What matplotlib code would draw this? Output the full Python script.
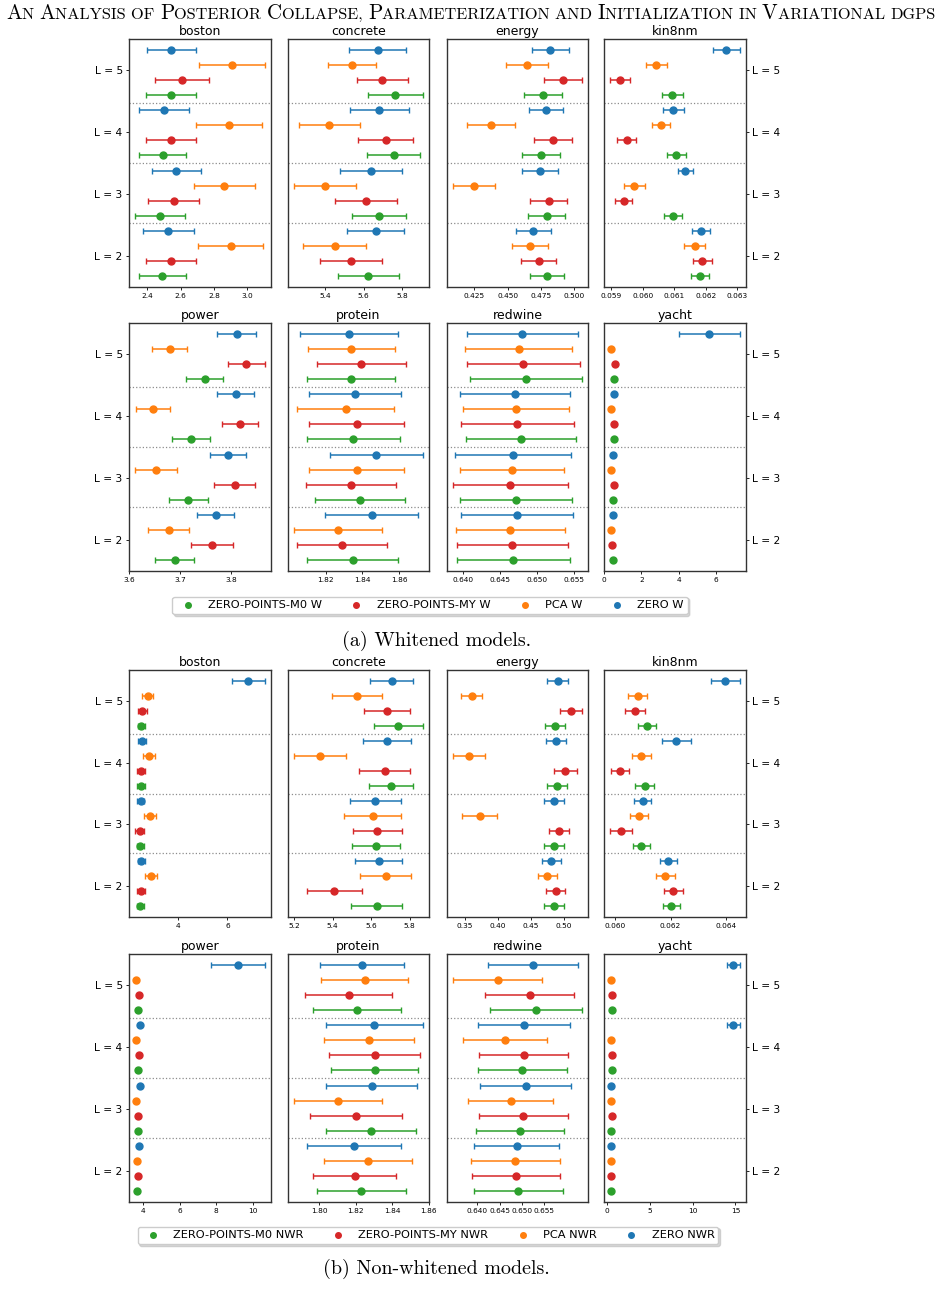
import matplotlib
matplotlib.use("Agg")
import matplotlib.pyplot as plt
from matplotlib.lines import Line2D
from matplotlib.offsetbox import TextArea, HPacker, AnchoredOffsetbox

# ---------------- data ----------------
DATASETS = ["boston", "concrete", "energy", "kin8nm", "power", "protein", "redwine", "yacht"]
LEVELS = ["L = 2", "L = 3", "L = 4", "L = 5"]
METHODS = ["ZERO-POINTS-M0", "ZERO-POINTS-MY", "PCA", "ZERO"]
COLORS = ["#2ca02c", "#d62728", "#ff7f0e", "#1f77b4"]

# Whitened models: means / error half-widths, per dataset, for L = 2, 3, 4, 5
W_M0_MEAN = {"boston": [2.490, 2.478, 2.492, 2.540], "concrete": [5.625, 5.680, 5.757, 5.764],
             "energy": [0.4795, 0.4792, 0.4750, 0.4765], "kin8nm": [0.06182, 0.06096, 0.06106, 0.06094],
             "power": [3.689, 3.716, 3.721, 3.748], "protein": [1.8347, 1.8388, 1.8350, 1.8339],
             "redwine": [0.64686, 0.64721, 0.64784, 0.64855], "yacht": [0.46, 0.46, 0.52, 0.55]}
W_M0_ERR = {"boston": [0.142, 0.150, 0.142, 0.150], "concrete": [0.158, 0.142, 0.138, 0.142],
            "energy": [0.0125, 0.0137, 0.0140, 0.0140], "kin8nm": [0.00028, 0.00029, 0.00030, 0.00032],
            "power": [0.038, 0.0386, 0.0366, 0.036], "protein": [0.0247, 0.0246, 0.0253, 0.0240],
            "redwine": [0.0076, 0.0076, 0.0074, 0.0075], "yacht": [0.05, 0.05, 0.05, 0.05]}
W_MY_MEAN = {"boston": [2.540, 2.558, 2.542, 2.610], "concrete": [5.536, 5.611, 5.714, 5.697],
             "energy": [0.4733, 0.4807, 0.4839, 0.4913], "kin8nm": [0.06188, 0.05939, 0.05948, 0.05928],
             "power": [3.762, 3.806, 3.817, 3.829], "protein": [1.8289, 1.8338, 1.8370, 1.8395],
             "redwine": [0.64668, 0.64646, 0.64739, 0.64819], "yacht": [0.43, 0.52, 0.55, 0.57]}
W_MY_ERR = {"boston": [0.150, 0.152, 0.152, 0.163], "concrete": [0.162, 0.160, 0.142, 0.132],
            "energy": [0.0132, 0.0137, 0.0140, 0.0140], "kin8nm": [0.00030, 0.00028, 0.00030, 0.00031],
            "power": [0.041, 0.040, 0.035, 0.0357], "protein": [0.0246, 0.0247, 0.0260, 0.0245],
            "redwine": [0.0075, 0.0077, 0.0076, 0.0076], "yacht": [0.05, 0.05, 0.05, 0.05]}
W_PCA_MEAN = {"boston": [2.900, 2.862, 2.888, 2.906], "concrete": [5.450, 5.400, 5.422, 5.541],
              "energy": [0.4668, 0.4250, 0.4374, 0.4646], "kin8nm": [0.06164, 0.05973, 0.06057, 0.06043],
              "power": [3.677, 3.653, 3.647, 3.679], "protein": [1.8269, 1.8370, 1.8309, 1.8339],
              "redwine": [0.64646, 0.64668, 0.64721, 0.64757], "yacht": [0.39, 0.39, 0.39, 0.39]}
W_PCA_ERR = {"boston": [0.195, 0.185, 0.199, 0.198], "concrete": [0.163, 0.159, 0.159, 0.125],
             "energy": [0.0132, 0.0155, 0.0180, 0.0158], "kin8nm": [0.00034, 0.00034, 0.00029, 0.00034],
             "power": [0.040, 0.0406, 0.033, 0.035], "protein": [0.0240, 0.0260, 0.0265, 0.0237],
             "redwine": [0.0073, 0.0070, 0.0071, 0.0072], "yacht": [0.04, 0.04, 0.04, 0.04]}
W_ZERO_MEAN = {"boston": [2.524, 2.574, 2.500, 2.544], "concrete": [5.664, 5.637, 5.682, 5.673],
               "energy": [0.4691, 0.4740, 0.4785, 0.4819], "kin8nm": [0.06184, 0.06134, 0.06097, 0.06265],
               "power": [3.769, 3.794, 3.808, 3.810], "protein": [1.8452, 1.8475, 1.8361, 1.8327],
               "redwine": [0.64735, 0.64677, 0.64708, 0.64806], "yacht": [0.46, 0.46, 0.52, 5.625]}
W_ZERO_ERR = {"boston": [0.153, 0.148, 0.151, 0.149], "concrete": [0.148, 0.161, 0.154, 0.147],
              "energy": [0.0130, 0.0135, 0.0127, 0.0139], "kin8nm": [0.00028, 0.00024, 0.00032, 0.00042],
              "power": [0.0367, 0.0354, 0.0354, 0.0373], "protein": [0.0254, 0.0254, 0.0250, 0.0269],
              "redwine": [0.0075, 0.0078, 0.0074, 0.0075], "yacht": [0.05, 0.05, 0.05, 1.62]}

# Non-whitened models
N_M0_MEAN = {"boston": [2.449, 2.449, 2.490, 2.490], "concrete": [5.628, 5.625, 5.704, 5.742],
             "energy": [0.4845, 0.4850, 0.4890, 0.4865], "kin8nm": [0.06203, 0.06095, 0.06107, 0.06115],
             "power": [3.71, 3.73, 3.75, 3.76], "protein": [1.8231, 1.8284, 1.8305, 1.8207],
             "redwine": [0.64921, 0.64958, 0.65010, 0.65315], "yacht": [0.55, 0.55, 0.59, 0.59]}
N_M0_ERR = {"boston": [0.15, 0.15, 0.17, 0.15], "concrete": [0.131, 0.124, 0.114, 0.125],
            "energy": [0.015, 0.015, 0.015, 0.0148], "kin8nm": [0.00031, 0.00031, 0.00034, 0.00031],
            "power": [0.04, 0.04, 0.04, 0.04], "protein": [0.0244, 0.0245, 0.0238, 0.0243],
            "redwine": [0.0100, 0.0099, 0.0100, 0.0103], "yacht": [0.05, 0.05, 0.05, 0.05]}
N_MY_MEAN = {"boston": [2.476, 2.422, 2.463, 2.530], "concrete": [5.408, 5.633, 5.670, 5.682],
             "energy": [0.4875, 0.4930, 0.5020, 0.5100], "kin8nm": [0.06210, 0.06023, 0.06019, 0.06072],
             "power": [3.73, 3.75, 3.78, 3.80], "protein": [1.8195, 1.8202, 1.8305, 1.8162],
             "redwine": [0.64877, 0.65033, 0.65040, 0.65174], "yacht": [0.55, 0.59, 0.63, 0.63]}
N_MY_ERR = {"boston": [0.16, 0.17, 0.16, 0.18], "concrete": [0.143, 0.126, 0.133, 0.119],
            "energy": [0.0145, 0.015, 0.017, 0.0165], "kin8nm": [0.00034, 0.00039, 0.00032, 0.00037],
            "power": [0.04, 0.04, 0.04, 0.04], "protein": [0.0227, 0.0251, 0.0250, 0.0238],
            "redwine": [0.0099, 0.0100, 0.0101, 0.0101], "yacht": [0.05, 0.05, 0.05, 0.05]}
N_PCA_MEAN = {"boston": [2.884, 2.844, 2.816, 2.748], "concrete": [5.675, 5.608, 5.336, 5.527],
              "energy": [0.4750, 0.3725, 0.3570, 0.3605], "kin8nm": [0.06181, 0.06086, 0.06095, 0.06082],
              "power": [3.67, 3.65, 3.64, 3.64], "protein": [1.8269, 1.8104, 1.8273, 1.8249],
              "redwine": [0.64854, 0.64750, 0.64617, 0.64461], "yacht": [0.47, 0.51, 0.47, 0.51]}
N_PCA_ERR = {"boston": [0.23, 0.24, 0.24, 0.22], "concrete": [0.131, 0.147, 0.134, 0.129],
             "energy": [0.015, 0.027, 0.024, 0.0158], "kin8nm": [0.00035, 0.00032, 0.00035, 0.00035],
             "power": [0.04, 0.04, 0.04, 0.04], "protein": [0.0240, 0.0240, 0.0246, 0.0238],
             "redwine": [0.0100, 0.0096, 0.0094, 0.0100], "yacht": [0.04, 0.04, 0.04, 0.04]}
N_ZERO_MEAN = {"boston": [2.490, 2.463, 2.517, 6.843], "concrete": [5.640, 5.621, 5.682, 5.706],
               "energy": [0.4810, 0.4850, 0.4880, 0.4905], "kin8nm": [0.06192, 0.06100, 0.06221, 0.06396],
               "power": [3.78, 3.84, 3.85, 9.18], "protein": [1.8191, 1.8289, 1.8302, 1.8235],
               "redwine": [0.64884, 0.65085, 0.65055, 0.65248], "yacht": [0.55, 0.55, 14.73, 14.73]}
N_ZERO_ERR = {"boston": [0.15, 0.15, 0.15, 0.67], "concrete": [0.122, 0.132, 0.126, 0.111],
              "energy": [0.015, 0.0155, 0.015, 0.0155], "kin8nm": [0.00031, 0.00030, 0.00052, 0.00052],
              "power": [0.04, 0.04, 0.04, 1.45], "protein": [0.0258, 0.0250, 0.0265, 0.0232],
              "redwine": [0.0096, 0.0102, 0.0103, 0.0101], "yacht": [0.05, 0.05, 0.75, 0.75]}

# x tick labels per panel
W_XTICKS = {"boston": ["2.4", "2.6", "2.8", "3.0"], "concrete": ["5.4", "5.6", "5.8"],
            "energy": ["0.425", "0.450", "0.475", "0.500"],
            "kin8nm": ["0.059", "0.060", "0.061", "0.062", "0.063"],
            "power": ["3.6", "3.7", "3.8"], "protein": ["1.82", "1.84", "1.86"],
            "redwine": ["0.640", "0.645", "0.650", "0.655"], "yacht": ["0", "2", "4", "6"]}
N_XTICKS = {"boston": ["4", "6"], "concrete": ["5.2", "5.4", "5.6", "5.8"],
            "energy": ["0.35", "0.40", "0.45", "0.50"], "kin8nm": ["0.060", "0.062", "0.064"],
            "power": ["4", "6", "8", "10"], "protein": ["1.80", "1.82", "1.84", "1.86"],
            "redwine": ["0.640", "0.645", "0.650", "0.655"], "yacht": ["0", "5", "10", "15"]}

W_LABELS = ["ZERO-POINTS-M0 W", "ZERO-POINTS-MY W", "PCA W", "ZERO W"]
N_LABELS = ["ZERO-POINTS-M0 NWR", "ZERO-POINTS-MY NWR", "PCA NWR", "ZERO NWR"]

TITLE = "An Analysis of Posterior Collapse, Parameterization and Initialization in Variational dgps"
CAPTION_A = "(a) Whitened models."
CAPTION_B = "(b) Non-whitened models."

# ---------------- figure ----------------
W, H = 942, 1306
fig = plt.figure(figsize=(W / 100, H / 100), dpi=100)
SERIF = ["cmr10", "DejaVu Serif"]

COLS = [(129, 271), (288, 429), (447, 588), (604, 746)]
ROWS = [(39, 287), (323, 571), (670, 917), (954, 1202)]

n_lev = len(LEVELS)
n_met = len(METHODS)
n_pts = n_lev * n_met
ylo, yhi = -0.75, n_pts - 1 + 0.75


def draw_panel(ax, means, errs, ds, ticklabels, col):
    for m in range(n_met):
        ys = [li * n_met + m for li in range(n_lev)]
        ax.errorbar(means[m][ds], ys, xerr=errs[m][ds], fmt="o", color=COLORS[m],
                    markersize=5, elinewidth=1.1, capsize=2.2, capthick=1.0, zorder=3)
    for li in range(1, n_lev):
        ax.axhline(li * n_met - 0.5, color="#8c8c8c", linestyle=":", linewidth=0.9, zorder=1)
    ax.set_ylim(ylo, yhi)
    ax.set_xticks([float(t) for t in ticklabels])
    ax.set_xticklabels(ticklabels)
    ax.tick_params(axis="x", labelsize=5.3, length=2.5, width=0.6, pad=2)
    step = (yhi - ylo) / n_lev
    ticks = [ylo + (i + 0.5) * step for i in range(n_lev)]
    if col == 0:
        ax.set_yticks(ticks)
        ax.set_yticklabels(LEVELS)
        ax.tick_params(axis="y", labelsize=7.7, length=2.5, width=0.6, pad=2)
    elif col == 3:
        ax.yaxis.tick_right()
        ax.set_yticks(ticks)
        ax.set_yticklabels(LEVELS)
        ax.tick_params(axis="y", labelsize=7.7, length=2.5, width=0.6, pad=2)
    else:
        ax.set_yticks([])
    ax.set_title(ds, fontsize=9, pad=3)
    for s in ax.spines.values():
        s.set_color("#333333")
        s.set_linewidth(1.0)


panels = [
    ([W_M0_MEAN, W_MY_MEAN, W_PCA_MEAN, W_ZERO_MEAN], [W_M0_ERR, W_MY_ERR, W_PCA_ERR, W_ZERO_ERR], W_XTICKS, 0),
    ([N_M0_MEAN, N_MY_MEAN, N_PCA_MEAN, N_ZERO_MEAN], [N_M0_ERR, N_MY_ERR, N_PCA_ERR, N_ZERO_ERR], N_XTICKS, 2),
]
for means, errs, xt, r0 in panels:
    for k, ds in enumerate(DATASETS):
        r = r0 + k // 4
        c = k % 4
        x0, x1 = COLS[c]
        y0, y1 = ROWS[r]
        ax = fig.add_axes([x0 / W, 1 - y1 / H, (x1 - x0) / W, (y1 - y0) / H])
        draw_panel(ax, means, errs, ds, xt[ds], c)


def legend_at(labels, cx, cy):
    handles = [Line2D([], [], marker="o", linestyle="", color=COLORS[m], markersize=4)
               for m in range(n_met)]
    fig.legend(handles, labels, loc="center", bbox_to_anchor=(cx / W, 1 - cy / H),
               ncol=4, fontsize=8.2, frameon=True, borderpad=0.35,
               shadow={"color": "0.7", "alpha": 0.5, "ox": 1.5, "oy": -1.5})


legend_at(W_LABELS, 430, 605.5)
legend_at(N_LABELS, 428, 1235.5)

fig.text(437 / W, 1 - 641 / H, CAPTION_A, ha="center", va="center", fontsize=14.4, family=SERIF)
fig.text(436.5 / W, 1 - 1269 / H, CAPTION_B, ha="center", va="center", fontsize=14.4, family=SERIF)


# small-caps title built from pieces
def smallcaps_pieces(text):
    words = text.split(" ")
    pieces = []
    for w_i, word in enumerate(words):
        sep = " " if w_i < len(words) - 1 else ""
        if word[0].isupper():
            pieces.append((word[0], True))
            rest = word[1:].upper() + sep
            if rest:
                pieces.append((rest, False))
        else:
            pieces.append((word.upper() + sep, False))
    return pieces


bg = fig.add_axes([0, 0, 1, 1], zorder=-1)
bg.axis("off")
renderer = fig.canvas.get_renderer()


def place_title(big):
    small = big * 0.78
    areas = [TextArea(t, textprops=dict(fontsize=big if b else small, family=SERIF))
             for t, b in smallcaps_pieces(TITLE)]
    pk = HPacker(children=areas, align="baseline", pad=0, sep=0)
    box = AnchoredOffsetbox(loc="upper center", child=pk, bbox_to_anchor=(0.5, 1 - 3 / H),
                            bbox_transform=fig.transFigure, frameon=False, pad=0, borderpad=0)
    bg.add_artist(box)
    return box


box = place_title(12.0)
wpx = box.get_window_extent(renderer).width
box.remove()
place_title(12.0 * 930.0 / wpx)

fig.savefig("out.png", dpi=100)
